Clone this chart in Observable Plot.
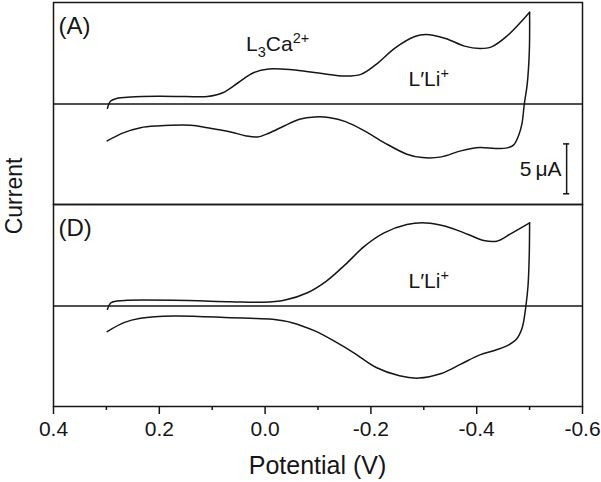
<!DOCTYPE html>
<html>
<head>
<meta charset="utf-8">
<script src="https://cdn.jsdelivr.net/npm/d3@7"></script>
<script src="https://cdn.jsdelivr.net/npm/@observablehq/plot@0.6"></script>
<style>
  html, body { margin: 0; padding: 0; background: #fff; }
  #chart { width: 601px; height: 482px; }
</style>
</head>
<body>
<div id="chart"></div>
<script>
// ---------- data ----------
const panels = ["A", "D"];
const panelLabels = ["(A)", "(D)"];
const xTicks = [0.4, 0.2, 0.0, -0.2, -0.4, -0.6];
const xMinorTicks = [0.3, 0.1, -0.1, -0.3, -0.5];

// Panel A – forward scan (toward negative potential)
const potentialA_fwd = [0.298, 0.292, 0.28, 0.254, 0.204, 0.15, 0.109, 0.08, 0.051, 0.022, -0.007, -0.051, -0.101, -0.152, -0.181, -0.21, -0.246, -0.283, -0.304, -0.341, -0.377, -0.406, -0.428, -0.457, -0.5];
const currentA_fwd   = [-0.43, 0.3, 0.57, 0.7, 0.77, 0.75, 0.75, 1.13, 2.13, 3.13, 3.5, 3.43, 3.1, 2.8, 2.97, 3.97, 5.63, 6.77, 6.97, 6.57, 5.8, 5.57, 5.73, 6.8, 9.2];
// Panel A – reverse scan
const potentialA_rev = [-0.5, -0.4995, -0.4955, -0.49, -0.4855, -0.4796, -0.47, -0.4577, -0.435, -0.406, -0.37, -0.333, -0.297, -0.268, -0.225, -0.188, -0.152, -0.123, -0.094, -0.065, -0.036, -0.007, 0.014, 0.036, 0.065, 0.109, 0.141, 0.204, 0.2355, 0.267, 0.2985];
const currentA_rev   = [9.2, 5.3, 2.0, 0, -2.0, -3.1, -4.1, -4.4, -4.47, -4.37, -4.7, -5.3, -5.37, -5.03, -3.87, -2.7, -1.77, -1.37, -1.3, -1.53, -2.2, -2.93, -3.3, -3.2, -2.8, -2.37, -2.13, -2.2, -2.37, -2.87, -3.7];

// Panel D – forward scan
const potentialD_fwd = [0.298, 0.292, 0.28, 0.261, 0.174, 0.065, 0.007, -0.036, -0.08, -0.116, -0.152, -0.188, -0.225, -0.268, -0.304, -0.341, -0.384, -0.413, -0.438, -0.464, -0.5];
const currentD_fwd   = [-0.33, 0.3, 0.5, 0.57, 0.57, 0.43, 0.37, 0.57, 1.33, 2.5, 4.17, 6.0, 7.33, 8.17, 8.33, 8.0, 7.17, 6.57, 6.5, 7.23, 8.33];
// Panel D – reverse scan
const potentialD_rev = [-0.5, -0.4993, -0.497, -0.493, -0.486, -0.475, -0.457, -0.435, -0.406, -0.37, -0.333, -0.29, -0.254, -0.21, -0.167, -0.13, -0.094, -0.051, -0.014, 0.029, 0.065, 0.173, 0.2355, 0.267, 0.2985];
const currentD_rev   = [8.33, 5.0, 2.0, 0, -2.17, -3.33, -4.0, -4.43, -4.9, -5.83, -6.77, -7.23, -7.0, -6.17, -4.67, -3.5, -2.5, -1.67, -1.33, -1.23, -1.17, -1.0, -1.23, -1.67, -2.57];

// Annotations (species labels)
const annoText      = ["L_{3}Ca^{2+}", "L\u2032Li^{+}", "L\u2032Li^{+}"];
const annoPanel     = ["A", "A", "D"];
const annoPotential = [0.036, -0.271, -0.271];
const annoCurrent   = [5.3, 1.8, 1.8];

// Scale bar (5 µA) in panel A
const scalePanel = "A";
const scalePotential = -0.57;
const scaleBottom = -9.0;
const scaleLength = 5;
const scaleLabel = "5\u2009\u03bcA";
const scaleLabelCurrent = -7.2;

// ---------- build tables ----------
function rows(panel, branch, vs, is) {
  return vs.map((v, k) => ({panel, branch: panel + branch, v, i: is[k]}));
}
const curveRows = [
  ...rows("A", "fwd", potentialA_fwd, currentA_fwd),
  ...rows("A", "rev", potentialA_rev, currentA_rev),
  ...rows("D", "fwd", potentialD_fwd, currentD_fwd),
  ...rows("D", "rev", potentialD_rev, currentD_rev)
];
const labelRows = panels.map((p, k) => ({panel: p, label: panelLabels[k]}));
const annoRows = annoText.map((t, k) => ({panel: annoPanel[k], text: t, v: annoPotential[k], i: annoCurrent[k]}));
const capHalf = 0.0058;
const scaleRows = [{panel: scalePanel, v: scalePotential, y1: scaleBottom, y2: scaleBottom + scaleLength, label: scaleLabel, ly: scaleLabelCurrent}];
const capRows = [scaleBottom, scaleBottom + scaleLength].map(y => ({panel: scalePanel, y, x1: scalePotential - capHalf, x2: scalePotential + capHalf}));

const ink = "#161616";
const font = "'Liberation Sans', Arial, Helvetica, sans-serif";

const chart = Plot.plot({
  width: 601,
  height: 482,
  marginLeft: 53,
  marginRight: 19,
  marginTop: 1,
  marginBottom: 76,
  style: {fontFamily: font, color: ink, background: "#fff", overflow: "visible"},
  x: {domain: [0.4, -0.6]},
  y: {domain: [-10.075, 10.175], axis: null},
  fy: {domain: panels, padding: 0, axis: null},
  marks: [
    Plot.frame({stroke: ink, strokeWidth: 1.5}),
    Plot.ruleY([0], {stroke: ink, strokeWidth: 1.5}),
    Plot.line(curveRows, {x: "v", y: "i", z: "branch", fy: "panel", curve: "catmull-rom", stroke: ink, strokeWidth: 1.5}),
    Plot.text(labelRows, {text: "label", fy: "panel", frameAnchor: "top-left", dx: 5, dy: 14, lineAnchor: "top", textAnchor: "start", fontSize: 24, fill: ink}),
    Plot.text(annoRows, {x: "v", y: "i", text: "text", fy: "panel", textAnchor: "start", lineAnchor: "bottom", fontSize: 21, fill: ink}),
    Plot.ruleX(scaleRows, {x: "v", y1: "y1", y2: "y2", fy: "panel", stroke: ink, strokeWidth: 1.5}),
    Plot.ruleY(capRows, {y: "y", x1: "x1", x2: "x2", fy: "panel", stroke: ink, strokeWidth: 1.5}),
    Plot.text(scaleRows, {x: "v", y: "ly", text: "label", fy: "panel", textAnchor: "end", lineAnchor: "bottom", dx: -5, fontSize: 21, fill: ink}),
    Plot.axisX({ticks: xTicks, tickSize: 8, tickPadding: 7, fontSize: 21, tickFormat: d => d.toFixed(1), label: null, stroke: ink, strokeWidth: 1.5, fill: ink}),
    Plot.axisX({ticks: xMinorTicks, tickSize: 4, tickFormat: () => "", label: null, stroke: ink, strokeWidth: 1.5})
  ]
});

// rich text: sub/superscripts
const NS = "http://www.w3.org/2000/svg";
chart.querySelectorAll("text").forEach(el => {
  const s = el.textContent;
  if (!/[_^]\{/.test(s)) return;
  const re = /([_^])\{([^}]*)\}/g;
  const parts = [];
  let last = 0, m;
  while ((m = re.exec(s))) {
    if (m.index > last) parts.push([0, s.slice(last, m.index)]);
    parts.push([m[1] === "_" ? 1 : -1, m[2]]);
    last = re.lastIndex;
  }
  if (last < s.length) parts.push([0, s.slice(last)]);
  el.textContent = "";
  let shift = 0;
  for (const [k, t] of parts) {
    const ts = document.createElementNS(NS, "tspan");
    const target = k === 1 ? 6 : k === -1 ? -8 : 0;
    ts.setAttribute("dy", String(target - shift));
    shift = target;
    if (k) ts.setAttribute("font-size", "14.5");
    ts.textContent = t;
    el.appendChild(ts);
  }
});

// axis titles
const svg = d3.select(chart);
svg.append("text")
  .attr("transform", "translate(21.5,196) rotate(-90)")
  .attr("text-anchor", "middle")
  .attr("font-family", font)
  .attr("font-size", 23)
  .attr("fill", ink)
  .text("Current");
svg.append("text")
  .attr("x", 317.5)
  .attr("y", 474)
  .attr("text-anchor", "middle")
  .attr("font-family", font)
  .attr("font-size", 25)
  .attr("fill", ink)
  .text("Potential (V)");

document.getElementById("chart").appendChild(chart);
</script>
</body>
</html>
